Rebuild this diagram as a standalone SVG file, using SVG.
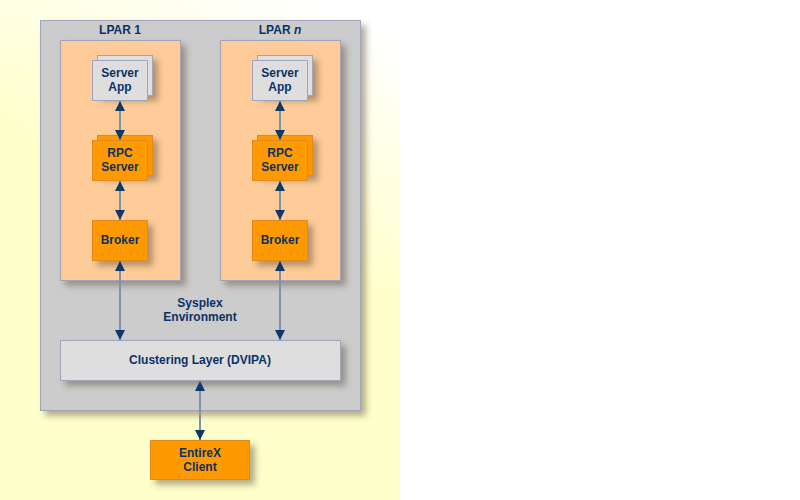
<svg xmlns="http://www.w3.org/2000/svg" width="800" height="500" viewBox="0 0 800 500">
<defs>
  <linearGradient id="bg" gradientUnits="userSpaceOnUse" x1="320" y1="0" x2="220" y2="220">
    <stop offset="0" stop-color="#ffffff"/>
    <stop offset="1" stop-color="#ffffcc"/>
  </linearGradient>
  <filter id="sh" x="-20%" y="-20%" width="150%" height="150%">
    <feDropShadow dx="5" dy="5" stdDeviation="3" flood-color="#5a4a30" flood-opacity="0.45"/>
  </filter>
  <marker id="ah" viewBox="0 0 10 10" refX="10" refY="5" markerWidth="10" markerHeight="10" markerUnits="userSpaceOnUse" orient="auto-start-reverse">
    <path d="M0,0 L10,5 L0,10 Z" fill="#0b3a6a"/>
  </marker>
  <style>
    .t{font-family:"Liberation Sans",Arial,sans-serif;font-weight:bold;font-size:12px;fill:#0b3266;text-anchor:middle}
    .gray{fill:#cccccc;stroke:#a0a4bc;stroke-width:1}
    .peach{fill:#ffcc99;stroke:#a0a4bc;stroke-width:1}
    .light{fill:#dedede;stroke:#a0a4bc;stroke-width:1}
    .orange{fill:#ff9900;stroke:#e08a20;stroke-width:1}
    .conn{stroke:#8090a8;stroke-width:2;fill:none;marker-start:url(#ah);marker-end:url(#ah)}
  </style>
</defs>
<rect x="0" y="0" width="400" height="500" fill="url(#bg)"/>
<rect x="400" y="0" width="400" height="500" fill="#ffffff"/>

<g id="sysplex">
  <rect class="gray" x="40.5" y="20.5" width="320" height="390" filter="url(#sh)"/>
  <text class="t" x="200" y="307">Sysplex</text>
  <text class="t" x="200" y="321">Environment</text>
</g>

<g id="lpar1">
  <rect class="peach" x="60.5" y="40.5" width="120" height="240" filter="url(#sh)"/>
  <text class="t" x="120" y="34">LPAR 1</text>
</g>
<g id="lparn">
  <rect class="peach" x="220.5" y="40.5" width="120" height="240" filter="url(#sh)"/>
  <text class="t" x="280" y="34">LPAR <tspan font-style="italic">n</tspan></text>
</g>

<g id="serverapp1">
  <rect class="light" x="97.5" y="55.5" width="55" height="40" filter="url(#sh)"/>
  <rect class="light" x="92.5" y="60.5" width="55" height="40"/>
  <text class="t" x="120" y="77">Server</text>
  <text class="t" x="120" y="91">App</text>
</g>
<g id="rpc1">
  <rect class="orange" x="97.5" y="135.5" width="55" height="40" filter="url(#sh)"/>
  <rect class="orange" x="92.5" y="140.5" width="55" height="40"/>
  <text class="t" x="120" y="157">RPC</text>
  <text class="t" x="120" y="171">Server</text>
</g>
<g id="broker1">
  <rect class="orange" x="92.5" y="220.5" width="55" height="40" filter="url(#sh)"/>
  <text class="t" x="120" y="244">Broker</text>
</g>

<g id="serverappn">
  <rect class="light" x="257.5" y="55.5" width="55" height="40" filter="url(#sh)"/>
  <rect class="light" x="252.5" y="60.5" width="55" height="40"/>
  <text class="t" x="280" y="77">Server</text>
  <text class="t" x="280" y="91">App</text>
</g>
<g id="rpcn">
  <rect class="orange" x="257.5" y="135.5" width="55" height="40" filter="url(#sh)"/>
  <rect class="orange" x="252.5" y="140.5" width="55" height="40"/>
  <text class="t" x="280" y="157">RPC</text>
  <text class="t" x="280" y="171">Server</text>
</g>
<g id="brokern">
  <rect class="orange" x="252.5" y="220.5" width="55" height="40" filter="url(#sh)"/>
  <text class="t" x="280" y="244">Broker</text>
</g>

<g id="clustering">
  <rect class="light" x="60.5" y="340.5" width="280" height="40" filter="url(#sh)"/>
  <text class="t" x="200" y="364">Clustering Layer (DVIPA)</text>
</g>

<g id="client">
  <rect class="orange" x="150.5" y="440.5" width="99" height="39" filter="url(#sh)"/>
  <text class="t" x="200" y="457">EntireX</text>
  <text class="t" x="200" y="471">Client</text>
</g>

<g id="connectors">
  <line class="conn" x1="120" y1="101" x2="120" y2="140"/>
  <line class="conn" x1="120" y1="181" x2="120" y2="220"/>
  <line class="conn" x1="120" y1="261" x2="120" y2="340"/>
  <line class="conn" x1="280" y1="101" x2="280" y2="140"/>
  <line class="conn" x1="280" y1="181" x2="280" y2="220"/>
  <line class="conn" x1="280" y1="261" x2="280" y2="340"/>
  <line class="conn" x1="200" y1="381" x2="200" y2="440"/>
</g>
</svg>
